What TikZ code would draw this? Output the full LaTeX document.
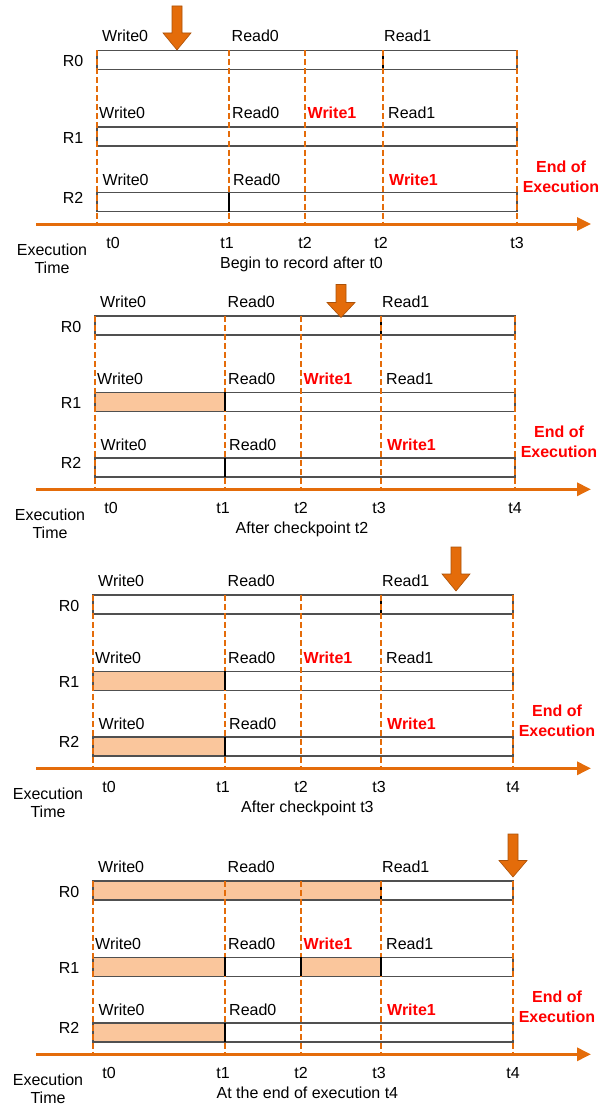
\documentclass[tikz,border=0pt]{standalone}
\usepackage{fontspec}
\setmainfont{Liberation Sans}
\usetikzlibrary{arrows.meta}
\definecolor{orng}{RGB}{228,108,10}
\definecolor{peachc}{RGB}{250,198,156}
\definecolor{boxgray}{RGB}{80,80,80}
\definecolor{redtxt}{RGB}{255,0,0}
\tikzset{
  box/.style={draw=boxgray, line width=1.4pt},
  divider/.style={draw=black, line width=1.2pt},
  peach/.style={fill=peachc},
  lbl/.style={font=\fontsize{16}{19}\selectfont, inner sep=0pt, anchor=base west},
  clbl/.style={font=\fontsize{16}{19}\selectfont, inner sep=0pt, anchor=base},
  redlbl/.style={font=\fontsize{16}{19}\selectfont\bfseries, text=redtxt, inner sep=0pt, anchor=base west},
  redclbl/.style={font=\fontsize{16}{19}\selectfont\bfseries, text=redtxt, inner sep=0pt, anchor=base},
  guide/.style={draw=orng, dash pattern=on 6pt off 3pt, line width=1.9pt},
  timeaxis/.style={draw=orng, line width=3pt, -{Triangle[length=14pt,width=13pt]}},
  dnarrow/.style={fill=orng, draw=orng!75!black, line width=0.6pt, line join=miter}
}
% #1 = panel id, #2 = y of the time axis
\newcommand{\drawpanel}[2]{%
  \draw[box] (\pXa,#2-173.5) rectangle (\pXe,#2-154.5);
  \draw[box] (\pXa,#2-97) rectangle (\pXe,#2-78);
  \draw[box] (\pXa,#2-31.5) rectangle (\pXe,#2-12.5);
  \draw[divider] (\pXd,#2-173.5) -- (\pXd,#2-154.5);
  \foreach \gx in {\pXa,\pXb,\pXc,\pXd,\pXe}{
    \draw[guide] (\gx,#2-173.5) -- (\gx,#2);
  }
  \coordinate (#1axs) at (36,#2);
  \coordinate (#1axe) at (591,#2);
  \draw[timeaxis] (#1axs) -- (#1axe);
  \path[dnarrow] (\pAr-5,\pAt) -- (\pAr+5,\pAt) -- (\pAr+5,\pAp-\pAh) -- (\pAr+14,\pAp-\pAh)
     -- (\pAr,\pAp) -- (\pAr-14,\pAp-\pAh) -- (\pAr-5,\pAp-\pAh) -- cycle;
  % row names
  \node[clbl] (#1rz) at (\pXa-24,#2-157) {R0};
  \node[clbl] (#1ro) at (\pXa-24,#2-81) {R1};
  \node[clbl] (#1rt) at (\pXa-24,#2-21) {R2};
  % R0 labels
  \node[lbl] (#1zw) at (\pXa+5,#2-182) {Write0};
  \node[lbl] (#1zr) at (\pXb+2.5,#2-182) {Read0};
  \node[lbl] (#1zs) at (\pXd+1,#2-182) {Read1};
  % R1 labels
  \node[lbl] (#1ow) at (\pXa+2,#2-105) {Write0};
  \node[lbl] (#1or) at (\pXb+3,#2-105) {Read0};
  \node[redlbl] (#1ox) at (\pXc+2.5,#2-105) {Write1};
  \node[lbl] (#1os) at (\pXd+5,#2-105) {Read1};
  % R2 labels
  \node[lbl] (#1tw) at (\pXa+5.5,#2-38.5) {Write0};
  \node[lbl] (#1tr) at (\pXb+4,#2-38.5) {Read0};
  \node[redlbl] (#1tx) at (\pXd+6,#2-38.5) {Write1};
  % end of execution
  \node[redclbl] (#1ea) at (\pXe+44,#2-51.5) {End of};
  \node[redclbl] (#1eb) at (\pXe+44,#2-31.5) {Execution};
  % time labels
  \node[clbl] (#1ta) at (\pXa+16,#2+24.5) {t0};
  \node[clbl] (#1tb) at (\pXb-2,#2+24.5) {t1};
  \node[clbl] (#1tc) at (\pXc,#2+24.5) {t2};
  \node[clbl] (#1td) at (\pXd-2,#2+24.5) {\pTd};
  \node[clbl] (#1te) at (\pXe,#2+24.5) {\pTe};
  \node[clbl] (#1xa) at (\pXa-45,#2+31) {Execution};
  \node[clbl] (#1xb) at (\pXa-45,#2+49) {Time};
  \node[clbl] (#1cap) at (\pCx,#2+44) {\pCap};
}
\begin{document}
\begin{tikzpicture}[x=1pt,y=-1pt]
\useasboundingbox (0,0) rectangle (610,1105);

% ---------- Panel 1 ----------
\def\pXa{97}\def\pXb{229}\def\pXc{305}\def\pXd{383}\def\pXe{517}
\def\pAr{177}\def\pAt{6}\def\pAp{50}\def\pAh{17}
\def\pTd{t2}\def\pTe{t3}
\def\pCx{301.5}\def\pCap{Begin to record after t0}
\drawpanel{a}{224}
\draw[divider] (\pXb,224-31.5) -- (\pXb,224-12.5);

% ---------- Panel 2 ----------
\def\pXa{95}\def\pXb{225}\def\pXc{301}\def\pXd{381}\def\pXe{515}
\def\pAr{341}\def\pAt{284.5}\def\pAp{317.5}\def\pAh{15}
\def\pTd{t3}\def\pTe{t4}
\def\pCx{302}\def\pCap{After checkpoint t2}
\fill[peach] (\pXa,489.3-97) rectangle (\pXb,489.3-78);
\drawpanel{b}{489.3}
\draw[divider] (\pXb,489.3-97) -- (\pXb,489.3-78);
\draw[divider] (\pXb,489.3-31.5) -- (\pXb,489.3-12.5);

% ---------- Panel 3 ----------
\def\pXa{93}\def\pXb{225}\def\pXc{301}\def\pXd{381}\def\pXe{513}
\def\pAr{456}\def\pAt{547}\def\pAp{591}\def\pAh{17}
\def\pTd{t3}\def\pTe{t4}
\def\pCx{307.4}\def\pCap{After checkpoint t3}
\fill[peach] (\pXa,768.3-97) rectangle (\pXb,768.3-78);
\fill[peach] (\pXa,768.3-31.5) rectangle (\pXb,768.3-12.5);
\drawpanel{c}{768.3}
\draw[divider] (\pXb,768.3-97) -- (\pXb,768.3-78);
\draw[divider] (\pXb,768.3-31.5) -- (\pXb,768.3-12.5);

% ---------- Panel 4 ----------
\def\pXa{93}\def\pXb{225}\def\pXc{301}\def\pXd{381}\def\pXe{513}
\def\pAr{513}\def\pAt{834}\def\pAp{877}\def\pAh{16.5}
\def\pTd{t3}\def\pTe{t4}
\def\pCx{307.4}\def\pCap{At the end of execution t4}
\fill[peach] (\pXa,1054.3-173.5) rectangle (\pXd,1054.3-154.5);
\fill[peach] (\pXa,1054.3-97) rectangle (\pXb,1054.3-78);
\fill[peach] (\pXc,1054.3-97) rectangle (\pXd,1054.3-78);
\fill[peach] (\pXa,1054.3-31.5) rectangle (\pXb,1054.3-12.5);
\drawpanel{d}{1054.3}
\draw[divider] (\pXb,1054.3-97) -- (\pXb,1054.3-78);
\draw[divider] (\pXc,1054.3-97) -- (\pXc,1054.3-78);
\draw[divider] (\pXd,1054.3-97) -- (\pXd,1054.3-78);
\draw[divider] (\pXb,1054.3-31.5) -- (\pXb,1054.3-12.5);
\end{tikzpicture}
\end{document}
